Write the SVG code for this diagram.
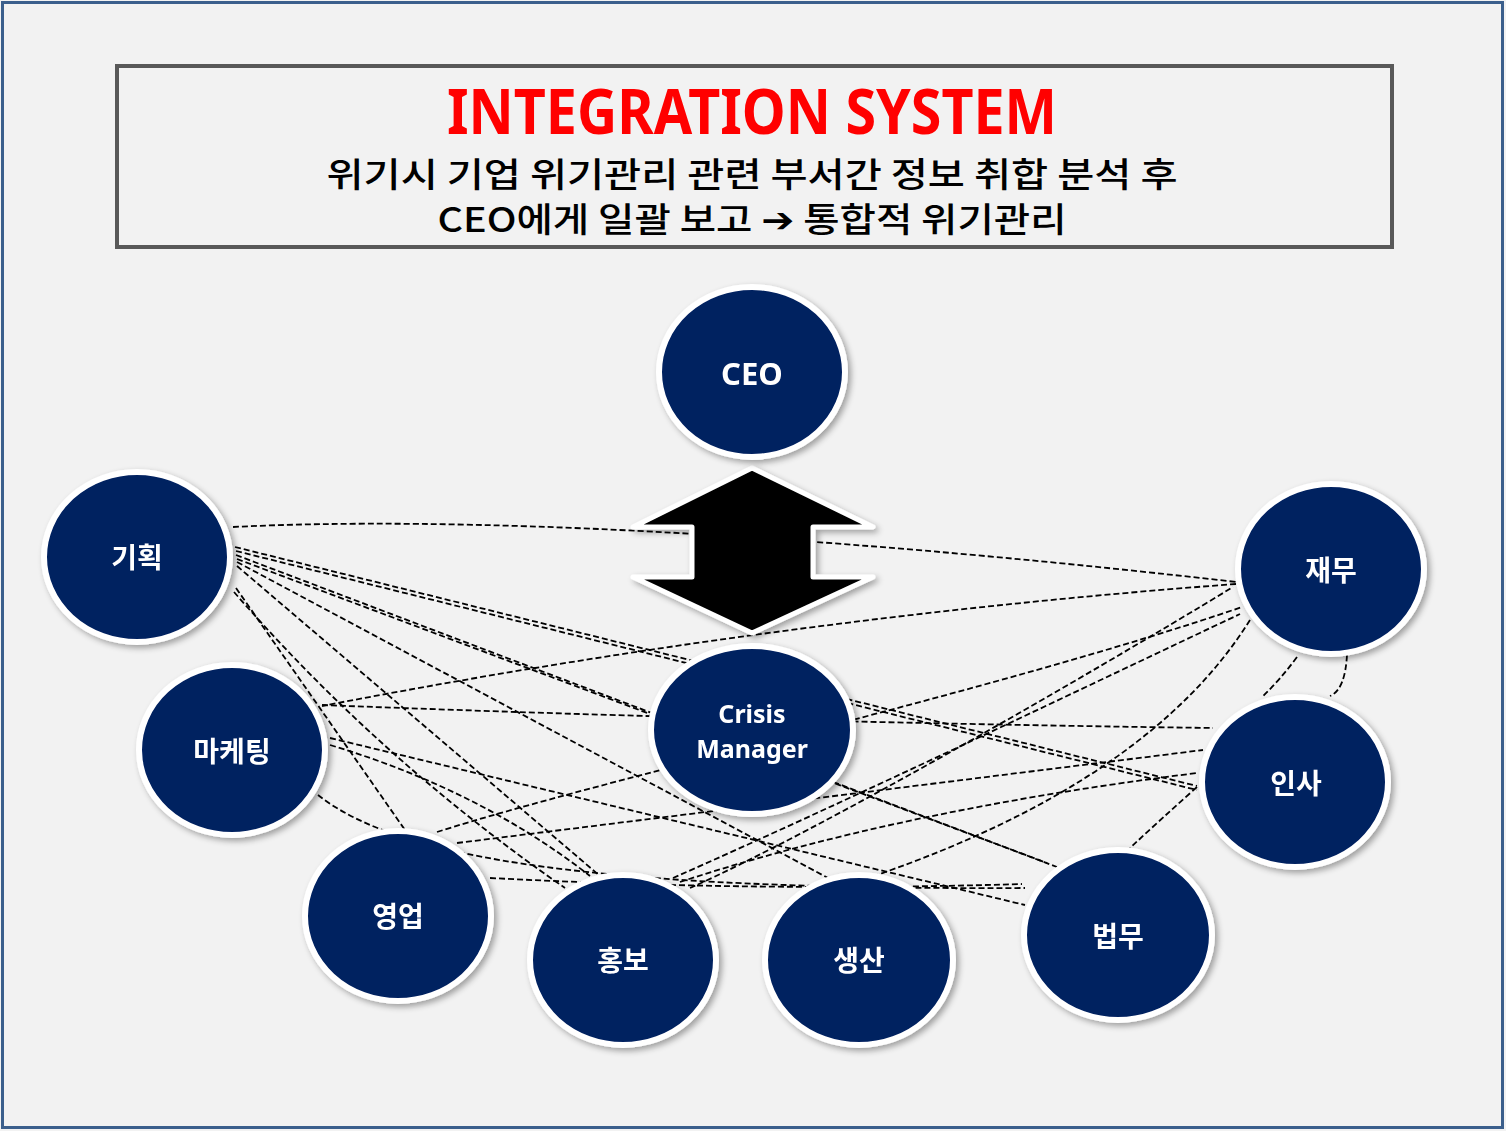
<svg xmlns="http://www.w3.org/2000/svg" width="1506" height="1131" viewBox="0 0 1506 1131">
<defs>
<filter id="sh" x="-20%" y="-20%" width="150%" height="150%">
<feGaussianBlur in="SourceAlpha" stdDeviation="3"/>
<feOffset dx="3" dy="3" result="b"/>
<feComponentTransfer><feFuncA type="linear" slope="0.35"/></feComponentTransfer>
<feMerge><feMergeNode/><feMergeNode in="SourceGraphic"/></feMerge>
</filter>
</defs>
<style>
.node ellipse{fill:#002060;stroke:#ffffff;stroke-width:6}
.node text{fill:#ffffff;font-family:"Noto Sans","Noto Sans CJK KR",sans-serif;font-weight:bold;text-anchor:middle;dominant-baseline:central}
.ko{font-size:28px}
#connectors path{fill:none;stroke:#000;stroke-width:1.8;stroke-dasharray:6 3}
.sub{fill:#000;font-family:"Noto Sans CJK KR","DejaVu Sans",sans-serif;font-weight:500;font-size:34px;text-anchor:middle}
</style>
<rect x="0" y="0" width="1506" height="1131" fill="#F2F2F2"/>
<rect x="2.5" y="2.5" width="1500" height="1125" fill="none" stroke="#3B5F8C" stroke-width="3"/>
<g id="title">
<rect x="117" y="66" width="1275" height="181" fill="none" stroke="#595959" stroke-width="4"/>
<text x="752" y="134" fill="#FF0000" font-family="Noto Sans, sans-serif" font-weight="bold" font-size="62" text-anchor="middle" textLength="610" lengthAdjust="spacingAndGlyphs">INTEGRATION SYSTEM</text>
<text class="sub" x="752" y="187" textLength="851" lengthAdjust="spacingAndGlyphs">위기시 기업 위기관리 관련 부서간 정보 취합 분석 후</text>
<text class="sub" x="752" y="232" textLength="629" lengthAdjust="spacingAndGlyphs">CEO에게 일괄 보고 ➔ 통합적 위기관리</text>
</g>
<g id="connectors">
<path d="M233,527 C450,516 800,532 1236,582"/>
<path d="M1236,584 Q780,618 322,706"/>
<path d="M322,705 Q760,722 1213,728"/>
<path d="M235,547 L1197,786"/>
<path d="M236,551 L1197,790"/>
<path d="M236,555 L1057,867"/>
<path d="M237,559 L1047,863"/>
<path d="M237,562 L828,878"/>
<path d="M237,566 L600,876"/>
<path d="M236,588 L405,830"/>
<path d="M234,592 Q380,760 565,888"/>
<path d="M330,738 L1025,905"/>
<path d="M318,795 C400,860 600,890 1025,888"/>
<path d="M490,878 Q760,892 1022,884"/>
<path d="M437,832 C600,780 1000,690 1242,607"/>
<path d="M457,843 L1203,750"/>
<path d="M673,878 C850,800 1100,680 1240,614"/>
<path d="M690,888 C820,830 1080,680 1233,587"/>
<path d="M680,882 Q900,810 1197,773"/>
<path d="M1250,620 Q1150,780 877,875"/>
<path d="M1297,657 Q1280,680 1262,697"/>
<path d="M1347,655 Q1345,690 1330,696"/>
<path d="M1197,787 Q1160,820 1130,848"/>
<path d="M330,745 Q480,790 590,876"/>
</g>
<g id="double-arrow" filter="url(#sh)">
<polygon points="752,468 873,527 813,527 813,577 873,577 752,633 633,577 692,577 692,527 633,527" fill="#000" stroke="#fff" stroke-width="5" stroke-linejoin="round"/>
</g>
<g id="node-ceo" class="node" filter="url(#sh)"><ellipse cx="752" cy="372" rx="93" ry="85"/><text x="752" y="373" font-size="31">CEO</text></g>
<g id="node-gihoek" class="node" filter="url(#sh)"><ellipse cx="137" cy="557" rx="93" ry="85"/><text class="ko" x="137" y="557">기획</text></g>
<g id="node-jaemu" class="node" filter="url(#sh)"><ellipse cx="1331" cy="569" rx="93" ry="85"/><text class="ko" x="1331" y="570">재무</text></g>
<g id="node-marketing" class="node" filter="url(#sh)"><ellipse cx="232" cy="750" rx="93" ry="85"/><text class="ko" x="232" y="751">마케팅</text></g>
<g id="node-crisis" class="node" filter="url(#sh)"><ellipse cx="752" cy="730" rx="101" ry="84"/><text x="752" y="713" font-size="25">Crisis</text><text x="752" y="748" font-size="25">Manager</text></g>
<g id="node-insa" class="node" filter="url(#sh)"><ellipse cx="1295" cy="782" rx="93" ry="85"/><text class="ko" x="1296" y="783">인사</text></g>
<g id="node-yeongeop" class="node" filter="url(#sh)"><ellipse cx="398" cy="916" rx="93" ry="85"/><text class="ko" x="398" y="916">영업</text></g>
<g id="node-hongbo" class="node" filter="url(#sh)"><ellipse cx="623" cy="960" rx="93" ry="85"/><text class="ko" x="623" y="960">홍보</text></g>
<g id="node-saengsan" class="node" filter="url(#sh)"><ellipse cx="859" cy="960" rx="94" ry="85"/><text class="ko" x="859" y="960">생산</text></g>
<g id="node-beopmu" class="node" filter="url(#sh)"><ellipse cx="1118" cy="935" rx="94" ry="85"/><text class="ko" x="1118" y="936">법무</text></g>
</svg>
